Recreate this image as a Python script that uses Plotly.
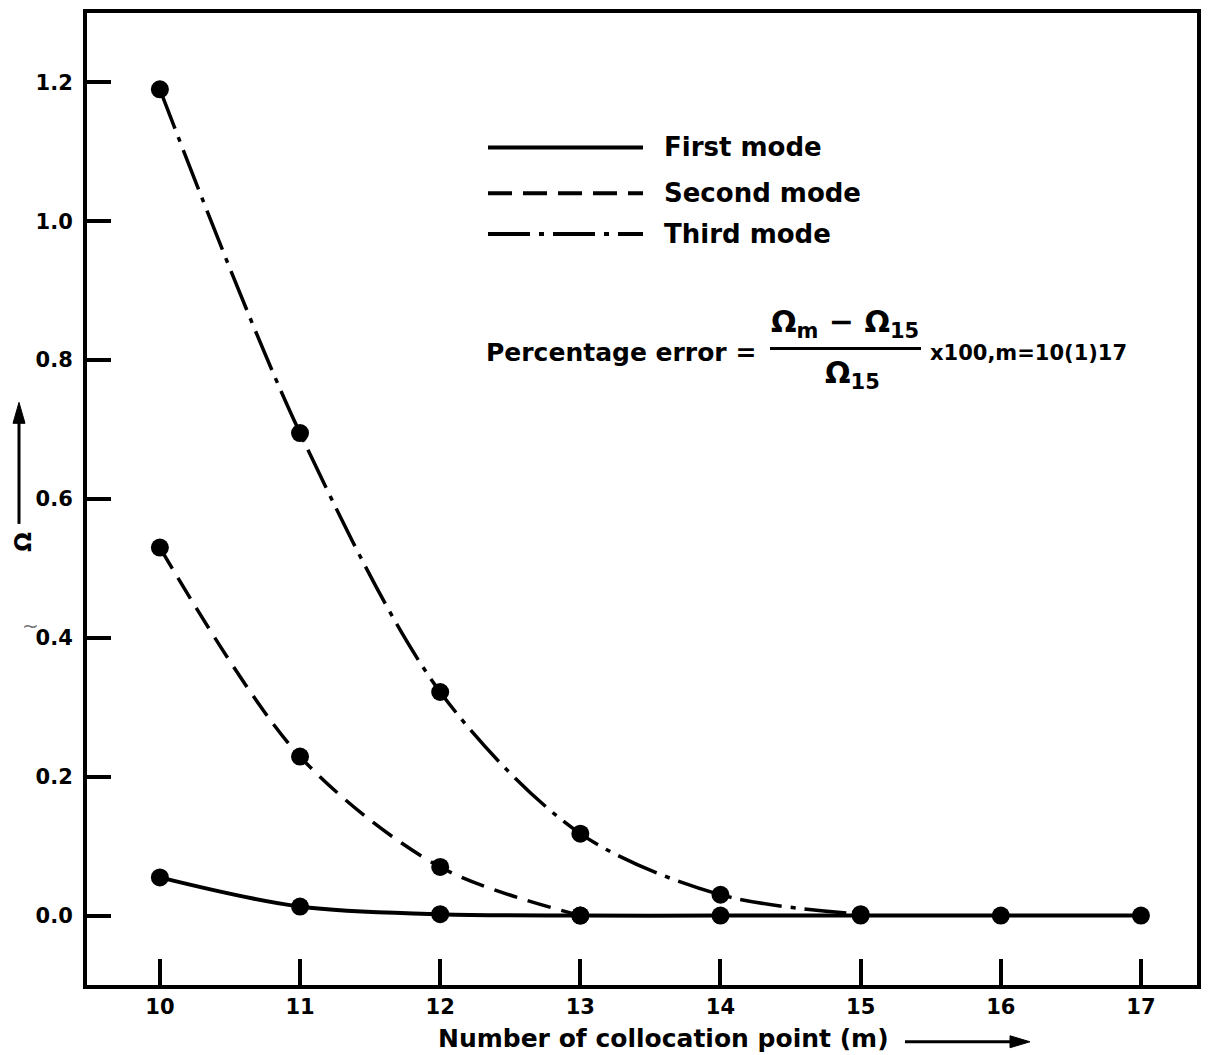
import plotly.graph_objects as go

# Data
m_first = [10, 11, 12, 13, 14, 15, 16, 17]
first_mode = [0.055, 0.013, 0.002, 0.0, 0.0, 0.0, 0.0, 0.0]
m_second = [10, 11, 12, 13]
second_mode = [0.53, 0.229, 0.07, 0.0]
m_third = [10, 11, 12, 13, 14, 15]
third_mode = [1.19, 0.695, 0.322, 0.118, 0.03, 0.002]
x_ticks = [10, 11, 12, 13, 14, 15, 16, 17]
y_ticks = [0.0, 0.2, 0.4, 0.6, 0.8, 1.0, 1.2]
y_tick_labels = ["0.0", "0.2", "0.4", "0.6", "0.8", "1.0", "1.2"]
legend_names = ["First mode", "Second mode", "Third mode"]

FONT = "DejaVu Sans"
dash_second = "24px,11px"
dash_third = "42px,9px,5px,9px"

fig = go.Figure()
fig.add_trace(go.Scatter(x=m_third, y=third_mode, mode="lines+markers",
                         line=dict(color="black", width=3.5, dash=dash_third, shape="spline", smoothing=0.9),
                         marker=dict(size=18, color="black"), name=legend_names[2]))
fig.add_trace(go.Scatter(x=m_second, y=second_mode, mode="lines+markers",
                         line=dict(color="black", width=3.5, dash=dash_second, shape="spline", smoothing=0.9),
                         marker=dict(size=18, color="black"), name=legend_names[1]))
fig.add_trace(go.Scatter(x=m_first, y=first_mode, mode="lines+markers",
                         line=dict(color="black", width=4, shape="spline", smoothing=1.0),
                         marker=dict(size=18, color="black"), name=legend_names[0]))

fig.update_layout(
    width=1195, height=1047,
    margin=dict(l=79, r=6, t=1, b=70),
    plot_bgcolor="white", paper_bgcolor="white",
    showlegend=False,
    font=dict(family=FONT, color="black"),
)
fig.update_xaxes(range=[9.48, 17.4], tickvals=x_ticks, ticks="inside", ticklen=26, tickwidth=4,
                 tickcolor="black", showline=True, linewidth=4, linecolor="black", mirror=True,
                 showgrid=False, zeroline=False,
                 tickfont=dict(family=FONT, size=21, color="black", weight="bold"))
fig.update_yaxes(range=[-0.1, 1.3], tickvals=y_ticks, ticktext=y_tick_labels, ticks="inside",
                 ticklen=24, tickwidth=4, tickcolor="black", showline=True, linewidth=4,
                 linecolor="black", mirror=True, showgrid=False, zeroline=False,
                 ticklabelstandoff=6,
                 tickfont=dict(family=FONT, size=21, color="black", weight="bold"))

def px(X):
    return (X - 87) / 1110.0

def py(Y):
    return (985 - Y) / 976.0

# Legend drawn inside plot
leg_Y = [144, 190, 231]
leg_dash = ["solid", dash_second, dash_third]
for name, Y, dsh in zip(legend_names, leg_Y, leg_dash):
    fig.add_shape(type="line", xref="paper", yref="paper", x0=px(488), x1=px(643), y0=py(Y), y1=py(Y),
                  line=dict(color="black", width=4, dash=dsh))
    fig.add_annotation(xref="paper", yref="paper", x=px(662), y=py(Y), text=name, showarrow=False,
                       xanchor="left", yanchor="middle",
                       font=dict(family=FONT, size=26, color="black", weight="bold"))

# Percentage error formula
fig.add_annotation(xref="paper", yref="paper", x=px(484), y=py(350), text="Percentage error =",
                   showarrow=False, xanchor="left", yanchor="middle",
                   font=dict(family=FONT, size=25, color="black", weight="bold"))
fig.add_annotation(xref="paper", yref="paper", x=px(845), y=py(342),
                   text="Ω<sub>m</sub> − Ω<sub>15</sub>", showarrow=False,
                   xanchor="center", yanchor="bottom",
                   font=dict(family=FONT, size=30, color="black", weight="bold"))
fig.add_shape(type="line", xref="paper", yref="paper", x0=px(770), x1=px(921), y0=py(346), y1=py(346),
              line=dict(color="black", width=3))
fig.add_annotation(xref="paper", yref="paper", x=px(853), y=py(350),
                   text="Ω<sub>15</sub>", showarrow=False,
                   xanchor="center", yanchor="top",
                   font=dict(family=FONT, size=30, color="black", weight="bold"))
fig.add_annotation(xref="paper", yref="paper", x=px(928), y=py(350), text="x100,m=10(1)17",
                   showarrow=False, xanchor="left", yanchor="middle",
                   font=dict(family=FONT, size=21, color="black", weight="bold"))

# X axis title with arrow
fig.add_annotation(xref="paper", yref="paper", x=px(436), y=py(1039),
                   text="Number of collocation point (m)", showarrow=False,
                   xanchor="left", yanchor="middle",
                   font=dict(family=FONT, size=25, color="black", weight="bold"))
fig.add_shape(type="line", xref="paper", yref="paper", x0=px(905), x1=px(1014), y0=py(1042), y1=py(1042),
              line=dict(color="black", width=3))
fig.add_shape(type="path", xref="paper", yref="paper",
              path=f"M {px(1030)},{py(1042)} L {px(1010)},{py(1036)} L {px(1010)},{py(1048)} Z",
              fillcolor="black", line=dict(color="black", width=1))

# Y axis title with arrow
fig.add_annotation(xref="paper", yref="paper", x=px(23), y=py(540), text="Ω",
                   textangle=-90, showarrow=False, xanchor="center", yanchor="middle",
                   font=dict(family=FONT, size=23, color="black", weight="bold"))
fig.add_shape(type="line", xref="paper", yref="paper", x0=px(19), x1=px(19), y0=py(522), y1=py(416),
              line=dict(color="black", width=3))
fig.add_shape(type="path", xref="paper", yref="paper",
              path=f"M {px(19)},{py(400)} L {px(13)},{py(421)} L {px(25)},{py(421)} Z",
              fillcolor="black", line=dict(color="black", width=1))
fig.add_annotation(xref="paper", yref="paper", x=px(20), y=py(625), text="~",
                   showarrow=False, font=dict(family=FONT, size=20, color="#777777"))

fig.write_html("out.html")
